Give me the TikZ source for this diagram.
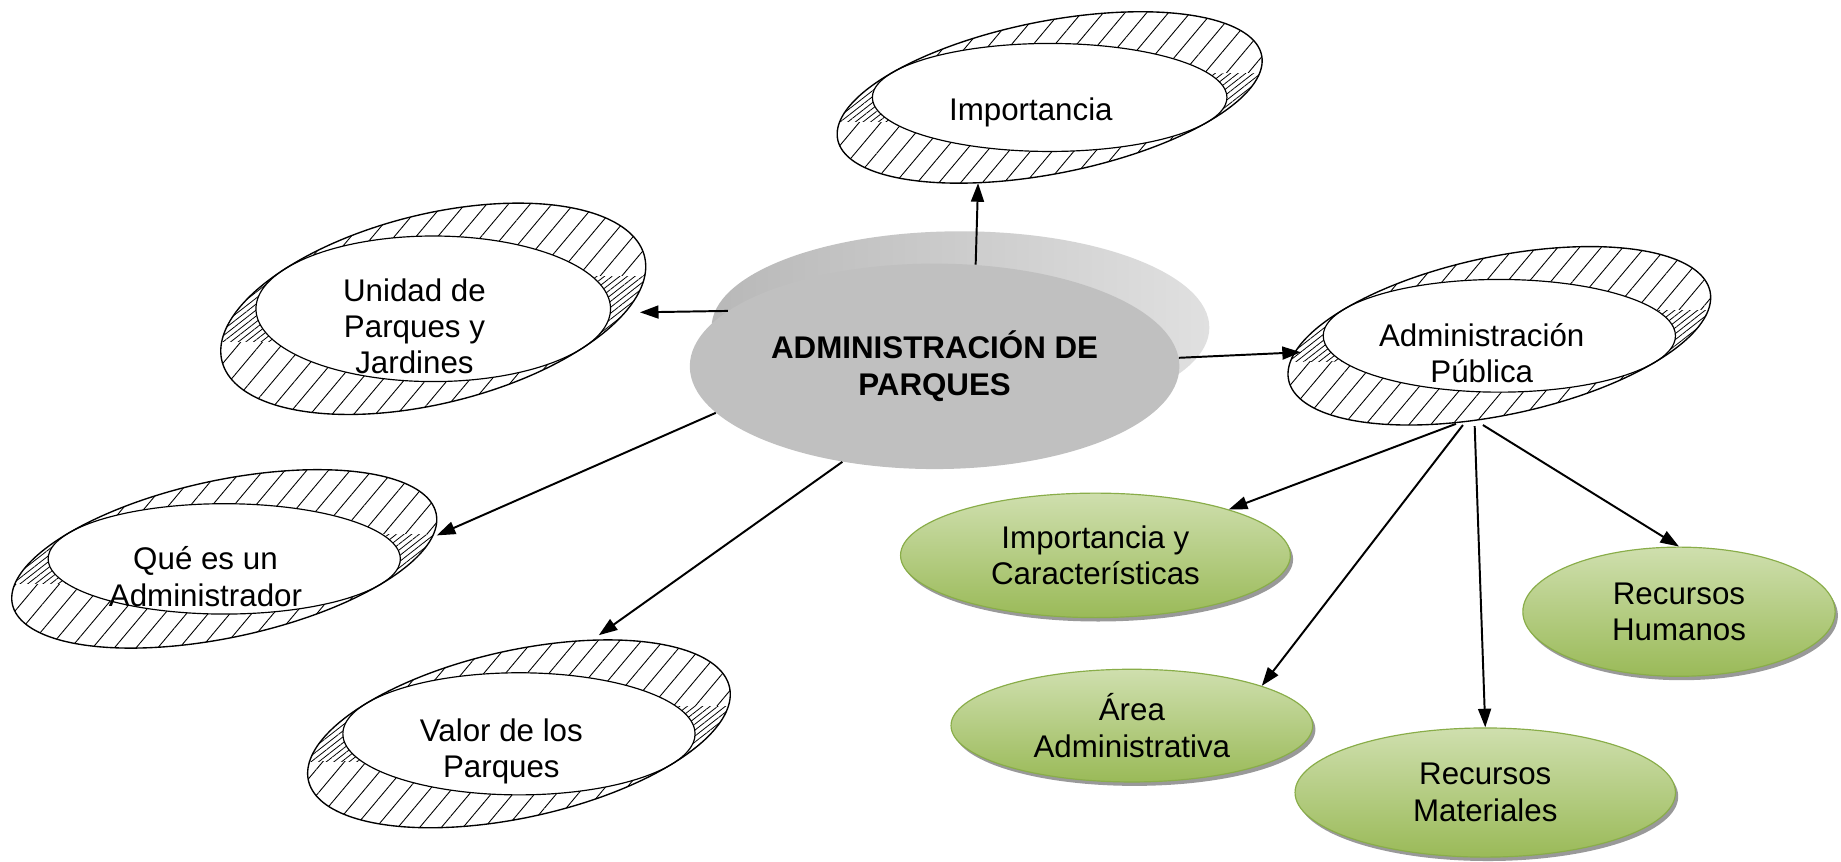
\documentclass[tikz,border=0pt]{standalone}
\usepackage{fontspec}
\setmainfont{Liberation Sans}
\usetikzlibrary{patterns.meta,shadows,arrows.meta,shapes.geometric}
\definecolor{gtop}{HTML}{CFDFAE}
\definecolor{gbot}{HTML}{9ABA58}
\definecolor{gline}{HTML}{89AD49}
\definecolor{cfront}{HTML}{C0C0C0}
\definecolor{cbackA}{HTML}{B8B8B8}
\definecolor{cbackM}{HTML}{A3A3A3}
\definecolor{cbackB}{HTML}{E0E0E0}
\newcommand\lblfont{\fontsize{16}{18.6}\selectfont}
\tikzset{
  lbl/.style={align=center,font=\lblfont,inner sep=0pt},
  gsz/.style 2 args={minimum width={#1*1.2pt},minimum height={#2*1.2pt}},
  gell/.style={ellipse,inner sep=0pt,draw=gline,line width=0.6pt,top color=gtop,bottom color=gbot,
     drop shadow={shadow xshift=1.4pt,shadow yshift=-2pt,opacity=0.4,fill=black},
     align=center,font=\lblfont},
  arr/.style={line width=1pt,-{Triangle[length=9.5pt,width=6.6pt]}},
  hatchmain/.style={pattern={Lines[angle=50,distance=8.5pt,line width=0.45pt]}},
  hatchdense/.style={pattern={Lines[angle=38,distance=2.4pt,line width=0.4pt]}}
}
% #1 cx, #2 cy, #3 inner a, #4 inner b, #5 outer RX, #6 outer RY
\newcommand\ringshape[6]{%
 \pgfmathsetmacro\rk{sqrt((#5/#3)^2+(#6/#4)^2-1)}%
 \pgfmathsetmacro\rc{-sqrt((\rk*\rk-(#5/#3)^2)/(\rk*\rk-1))}%
 \pgfmathsetmacro\rs{sqrt(1-(\rc)*(\rc))}%
 \pgfmathsetmacro\Ux{#3*(\rc)}%
 \pgfmathsetmacro\Uy{-#4*(\rs)}%
 \pgfmathsetmacro\Vx{(\rk)*#3*(\rs)}%
 \pgfmathsetmacro\Vy{(\rk)*#4*(\rc)}%
 \fill[white] plot[smooth cycle,samples=90,domain=0:356,variable=\t]({#1+cos(\t)*(\Ux)+sin(\t)*(\Vx)},{#2+cos(\t)*(\Uy)+sin(\t)*(\Vy)});
 \fill[hatchmain] plot[smooth cycle,samples=90,domain=0:356,variable=\t]({#1+cos(\t)*(\Ux)+sin(\t)*(\Vx)},{#2+cos(\t)*(\Uy)+sin(\t)*(\Vy)});
 \begin{scope}
  \clip plot[smooth cycle,samples=90,domain=0:356,variable=\t]({#1+cos(\t)*(\Ux)+sin(\t)*(\Vx)},{#2+cos(\t)*(\Uy)+sin(\t)*(\Vy)});
  \fill[white] ({#1-#5-5},{#2+(\Uy)}) rectangle ({#1+(\Ux)+4},{#2+0.45*#4});
  \fill[hatchdense] ({#1-#5-5},{#2+(\Uy)}) rectangle ({#1+(\Ux)+4},{#2+0.45*#4});
  \fill[white] ({#1-(\Ux)-4},{#2-0.45*#4}) rectangle ({#1+#5+5},{#2-(\Uy)});
  \fill[hatchdense] ({#1-(\Ux)-4},{#2-0.45*#4}) rectangle ({#1+#5+5},{#2-(\Uy)});
 \end{scope}
 \filldraw[fill=white,line width=0.6pt] plot[smooth cycle,samples=90,domain=0:356,variable=\t]({#1+#3*cos(\t)},{#2+#4*sin(\t)});
 \draw[line width=0.7pt] plot[smooth cycle,samples=90,domain=0:356,variable=\t]({#1+cos(\t)*(\Ux)+sin(\t)*(\Vx)},{#2+cos(\t)*(\Uy)+sin(\t)*(\Vy)});
}
\begin{document}
\begin{tikzpicture}[x=0.6pt,y=-0.6pt]
\useasboundingbox (0,0) rectangle (1568,734);
\fill[white] (0,0) rectangle (1568,734);

% rings
\ringshape{894}{83}{151}{46}{181}{73}
\ringshape{369}{263}{151}{62}{181}{90}
\ringshape{1277}{286}{150}{48}{180}{76}
\ringshape{191}{476}{150}{47}{181}{76}
\ringshape{442}{625}{150}{52}{180}{80}

\node[lbl] (imp) at (878,96) {Importancia};
\node[lbl] (uni) at (353,278) {Unidad de\\Parques y\\Jardines};
\node[lbl] (adm) at (1262,301) {Administración\\Pública};
\node[lbl] (que) at (175,491) {Qué es un\\Administrador};
\node[lbl] (val) at (427,640) {Valor de los\\Parques};

\coordinate (impS) at (833,156);
\coordinate (uniE) at (545,266);
\coordinate (admW) at (1108,300);
\coordinate (queE) at (372,456);
\coordinate (valN) at (510,541);
\coordinate (admA) at (1240,361);
\coordinate (admB) at (1246,362);
\coordinate (admC) at (1256,363);
\coordinate (admD) at (1263,362);

% central
\node[ellipse,inner sep=0pt,gsz={212}{82},left color=cbackA,middle color=cbackM,right color=cbackB] (cenb) at (818,279) {};
\node[ellipse,inner sep=0pt,gsz={208.5}{87.5},fill=cfront,align=center,font=\lblfont\bfseries] (cen) at (796,312) {ADMINISTRACIÓN DE\\PARQUES};

% green
\node[gell,gsz={166}{53}] (iyc) at (933,473) {Importancia y\\Características};
\node[gell,gsz={154}{48}] (area) at (964,618) {Área\\Administrativa};
\node[gell,gsz={162}{55}] (rm) at (1265,675) {Recursos\\Materiales};
\node[gell,gsz={133}{55}] (rh) at (1430,521) {Recursos\\Humanos};

% arrows
\draw[arr] (cen.68.7) -- (impS);
\draw[arr] (cen.165.4) -- (uniE);
\draw[arr] (cen.2.7) -- (admW);
\draw[arr] (cen.192.6) -- (queE);
\draw[arr] (cen.226.8) -- (valN);
\draw[arr] (admA) -- (iyc.19.2);
\draw[arr] (admB) -- (area.17.5);
\draw[arr] (admC) -- (rm.north);
\draw[arr] (admD) -- (rh.north);
\end{tikzpicture}
\end{document}
